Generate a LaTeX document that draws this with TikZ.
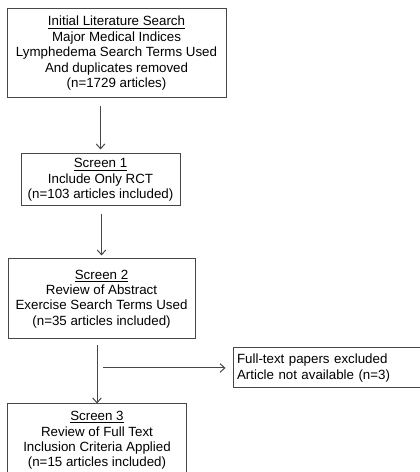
\documentclass[tikz,border=0pt]{standalone}
\usepackage{fontspec}
\setmainfont{Liberation Sans}
\usepackage{tikz}
\usepackage{xcolor}
\usetikzlibrary{arrows.meta,positioning}

\begin{document}
\begin{tikzpicture}[
  font=\fontsize{10}{11.6}\selectfont,
  box/.style={
    draw=black!72,
    line width=0.75pt,
    align=center,
    inner sep=0pt,
  },
  flow/.style={-{Straight Barb[length=3.6pt,width=6.5pt]}, line width=0.75pt, draw=black!72},
  search/.style={box, minimum width=164.25pt, minimum height=66.75pt},
  screen_a/.style={box, minimum width=119.25pt, minimum height=39pt},
  screen_b/.style={box, minimum width=140.25pt, minimum height=60pt},
  screen_c/.style={box, draw=none, minimum width=133.5pt, minimum height=54.75pt},
  excluded/.style={box, align=left, anchor=north west, text width=134.25pt, inner xsep=3pt, minimum height=30pt},
]

\useasboundingbox (0,0) rectangle (315pt,-354pt);

\node[search] (initial) at (87.4pt,-40.1pt) {\underline{Initial Literature Search}\\Major Medical Indices\\Lymphedema Search Terms Used\\And duplicates removed\\(n=1729 articles)};
\node[screen_a, below=41.25pt of initial, xshift=-12pt] (screen_one) {\underline{Screen 1}\\Include Only RCT\\(n=103 articles included)};
\node[screen_b, below=39pt of screen_one, xshift=0.75pt] (screen_two) {\underline{Screen 2}\\Review of Abstract\\Exercise Search Terms Used\\(n=35 articles included)};
\node[screen_c, below=48pt of screen_two, xshift=-3.4pt] (screen_three) {\underline{Screen 3}\\Review of Full Text\\Inclusion Criteria Applied\\(n=15 articles included)};
\node[excluded, below right=6pt and 27.75pt of screen_two.south east] (not_available) {Full-text papers excluded\\Article not available (n=3)};

% the last box runs off the bottom of the page
\draw[black!72, line width=0.75pt] (screen_three.north west) rectangle ([yshift=-12pt]screen_three.south east);

\draw[flow, shorten <=6pt, shorten >=3pt] (screen_one.north |- initial.south) -- (screen_one.north);
\draw[flow, shorten <=6pt, shorten >=2.25pt] (screen_two.north |- screen_one.south) -- (screen_two.north);
\draw[flow, shorten <=4.5pt] (screen_three.north |- screen_two.south) -- (screen_three.north);

\coordinate (split) at (screen_three.north |- not_available.west);
\draw[flow, shorten <=4.5pt, shorten >=5.25pt] (split) -- (not_available.west);

\end{tikzpicture}
\end{document}
